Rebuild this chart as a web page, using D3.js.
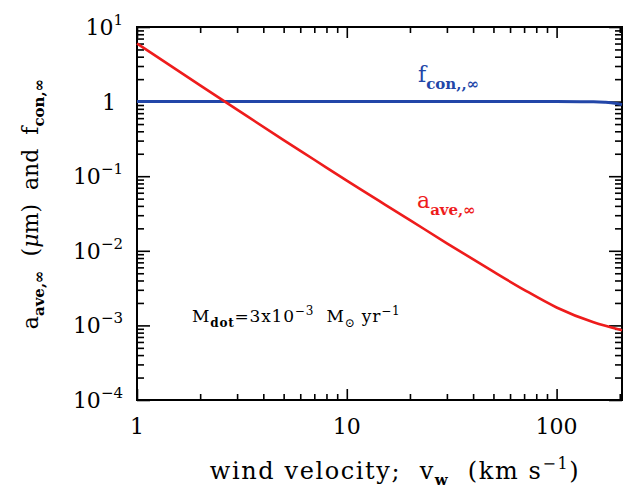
<!DOCTYPE html>
<html>
<head>
<meta charset="utf-8">
<script src="https://cdn.jsdelivr.net/npm/d3@7"></script>
<style>
  body { margin: 0; background: #fff; }
  text { font-family: "DejaVu Serif", serif; white-space: pre; }
</style>
</head>
<body>
<svg id="chart"></svg>
<script>
// wind velocity (km/s) and grain size
const aVel = [1, 2, 3, 5, 7, 10, 20, 30, 50, 70, 100, 150, 205]
const aAve = [6.0, 1.65, 0.78, 0.305, 0.166, 0.087, 0.0258, 0.0126, 0.00525, 0.0030, 0.00174, 0.0011, 0.00086]
// condensation efficiency
const fVel = [1, 10, 100, 150, 170, 190, 205]
const fCon = [1, 1, 1, 0.995, 0.98, 0.95, 0.91]
// axis ticks
const xTicks = [1, 10, 100]
const yTickExps = [1, 0, -1, -2, -3, -4]

let width = 629
let height = 494
let margin = { left: 137, right: 7, top: 27, bottom: 94 }

let svg = d3.select('#chart')
  .attr('width', width)
  .attr('height', height)

let x = d3.scaleLog()
  .domain([1, 205])
  .range([margin.left, width - margin.right])
let y = d3.scaleLog()
  .domain([1e-4, 10])
  .range([height - margin.bottom, margin.top])

// minor tick positions, 2..9 in each decade
let xMinor = []
for (let d = 1; d <= 100; d *= 10) {
  for (let k = 2; k <= 9; k++) if (d * k <= 205) xMinor.push(d * k)
}
let yMinor = []
for (let e = -4; e < 1; e++) {
  for (let k = 2; k <= 9; k++) yMinor.push(k * Math.pow(10, e))
}

function ticks(axis, vals, size, transform) {
  let g = svg.append('g')
    .attr('transform', transform)
    .call(axis.tickValues(vals).tickSize(size).tickFormat(''))
  g.select('.domain').remove()
  g.selectAll('line').attr('stroke', '#000').attr('stroke-width', 1.6)
}

let x0 = margin.left, x1 = width - margin.right
let y0 = margin.top, y1 = height - margin.bottom

ticks(d3.axisBottom(x), xTicks, -11, `translate(0,${y1})`)
ticks(d3.axisBottom(x), xMinor, -6, `translate(0,${y1})`)
ticks(d3.axisTop(x), xTicks, -11, `translate(0,${y0})`)
ticks(d3.axisTop(x), xMinor, -6, `translate(0,${y0})`)
let yMajor = yTickExps.map(e => Math.pow(10, e))
ticks(d3.axisLeft(y), yMajor, -13, `translate(${x0},0)`)
ticks(d3.axisLeft(y), yMinor, -7, `translate(${x0},0)`)
ticks(d3.axisRight(y), yMajor, -13, `translate(${x1},0)`)
ticks(d3.axisRight(y), yMinor, -7, `translate(${x1},0)`)

// frame
svg.append('rect')
  .attr('x', x0).attr('y', y0)
  .attr('width', x1 - x0).attr('height', y1 - y0)
  .attr('fill', 'none')
  .attr('stroke', '#000')
  .attr('stroke-width', 2)

// lines
let line = d3.line()
  .x(d => x(d[0]))
  .y(d => y(d[1]))
  .curve(d3.curveMonotoneX)

svg.append('path')
  .datum(fVel.map((v, i) => [v, fCon[i]]))
  .attr('d', line)
  .attr('fill', 'none')
  .attr('stroke', '#2246a8')
  .attr('stroke-width', 3)

svg.append('path')
  .datum(aVel.map((v, i) => [v, aAve[i]]))
  .attr('d', line)
  .attr('fill', 'none')
  .attr('stroke', '#ee1c1c')
  .attr('stroke-width', 2.6)

// y tick labels
yTickExps.forEach(e => {
  let t = svg.append('text')
    .attr('y', y(Math.pow(10, e)) + 8)
    .attr('text-anchor', 'end')
    .style('font-size', '22px')
  if (e === 0) {
    t.attr('x', 116).text('1')
  } else {
    t.attr('x', 123)
    t.append('tspan').text('10')
    t.append('tspan').attr('dy', -10).style('font-size', '15px').text(e < 0 ? '\u2212' + (-e) : e)
  }
})

// x tick labels
svg.selectAll('.xlab')
  .data(xTicks)
  .enter()
  .append('text')
  .attr('x', d => x(d))
  .attr('y', 434)
  .attr('text-anchor', 'middle')
  .style('font-size', '22px')
  .text(d => d)

// x axis title
let xt = svg.append('text')
  .attr('x', 395).attr('y', 479)
  .attr('text-anchor', 'middle')
  .style('font-size', '24px')
  .style('letter-spacing', '1.6px')
xt.append('tspan').text('wind velocity;  v')
xt.append('tspan').attr('dy', 6).style('font-size', '15px').style('font-weight', 'bold').text('w')
xt.append('tspan').attr('dy', -6).text('  (km s')
xt.append('tspan').attr('dy', -10).style('font-size', '16px').text('\u22121')
xt.append('tspan').attr('dy', 10).text(')')

// y axis title
let yt = svg.append('text')
  .attr('transform', 'translate(38,204) rotate(-90)')
  .attr('text-anchor', 'middle')
  .style('font-size', '22px')
yt.append('tspan').text('a')
yt.append('tspan').attr('dy', 6).style('font-size', '15px').style('font-weight', 'bold').text('ave,\u221e')
yt.append('tspan').attr('dy', -6).text('  (')
yt.append('tspan').style('font-style', 'italic').text('\u03bc')
yt.append('tspan').text('m)  and  f')
yt.append('tspan').attr('dy', 6).style('font-size', '15px').style('font-weight', 'bold').text('con,\u221e')

// series labels
let fl = svg.append('text').attr('x', 418).attr('y', 82).attr('fill', '#2246a8').style('font-size', '22px')
fl.append('tspan').text('f')
fl.append('tspan').attr('dy', 7).style('font-size', '15px').style('font-weight', 'bold').text('con,,\u221e')

let al = svg.append('text').attr('x', 417).attr('y', 208).attr('fill', '#ee1c1c').style('font-size', '22px')
al.append('tspan').text('a')
al.append('tspan').attr('dy', 7).style('font-size', '15px').style('font-weight', 'bold').text('ave,\u221e')

// annotation
let an = svg.append('text').attr('x', 192).attr('y', 322)
  .style('font-size', '17px')
  .style('letter-spacing', '0.8px')
an.append('tspan').text('M')
an.append('tspan').attr('dy', 5).style('font-size', '12px').style('font-weight', 'bold').text('dot')
an.append('tspan').attr('dy', -5).text('=3x10')
an.append('tspan').attr('dy', -7).style('font-size', '12px').text('\u22123')
an.append('tspan').attr('dy', 7).text('  M')
an.append('tspan').attr('dy', 5).style('font-size', '12px').text('\u2299')
an.append('tspan').attr('dy', -5).text(' yr')
an.append('tspan').attr('dy', -7).style('font-size', '12px').text('\u22121')
</script>
</body>
</html>
